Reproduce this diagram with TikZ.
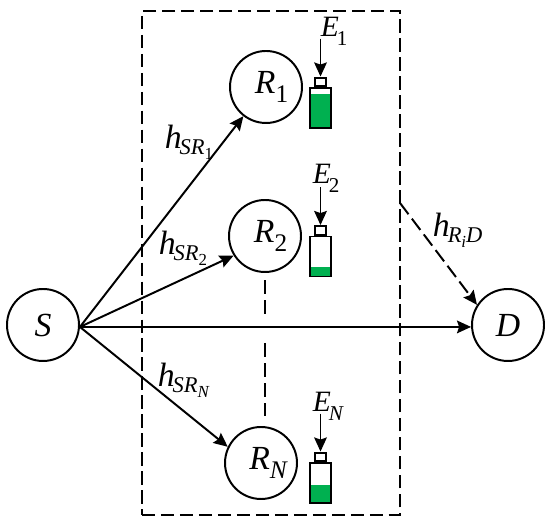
\documentclass[tikz,border=0pt]{standalone}
\usepackage{fontspec}
\setmainfont{Liberation Serif}
\usetikzlibrary{arrows.meta,positioning}
\definecolor{batgreen}{RGB}{0,176,80}
\newcommand{\lowtxt}[3]{\raisebox{-#1pt}{\fontsize{#2}{#2}\selectfont #3}}
\newcommand{\relay}[2]{\hspace*{8pt}\textit{#1}\lowtxt{6}{18}{#2}}
\newcommand{\energy}[1]{\fontsize{21}{21}\selectfont\textit{E}\kern-1.5pt\lowtxt{6}{15}{#1}}
\newcommand{\chan}[2]{\textit{h}\kern-1.5pt\lowtxt{4}{16}{\itshape #1\lowtxt{3.5}{12}{#2}}}

\begin{document}
\begin{tikzpicture}[
  line width=1.4pt,
  font=\fontsize{24}{24}\selectfont,
  terminal/.style={draw,circle,minimum size=1.8cm,inner sep=0pt},
  battery/.style={draw,minimum width=0.525cm,minimum height=1cm,inner sep=0pt},
  batcap/.style={draw,minimum width=0.275cm,minimum height=0.2125cm,inner sep=0pt},
  tag/.style={anchor=base west,inner sep=0pt},
  arrow/.style={-{Stealth[length=10pt,width=9pt,inset=1.5pt]}},
  gapline/.style={dash pattern=on 10pt off 4.3pt}
]
  \useasboundingbox (0,0) rectangle (13.75,13.175);

  \node[terminal] (S) at (1.075,5.05) {\textit{S}};
  \node[terminal] (D) at (12.7,5.05) {\textit{D}};
  \node[terminal] (R1) at (6.65,11.0) {\relay{R}{1}};
  \node[terminal] (R2) at (6.625,7.275) {\relay{R}{2}};
  \node[terminal] (RN) at (6.525,1.6) {\hspace*{2pt}\relay{R}{\itshape N}};

  % relay group
  \node[draw,dash pattern=on 9.5pt off 4pt,minimum width=6.45cm,minimum height=12.6cm,inner sep=0pt]
    (group) at (6.775,6.6) {};

  \foreach \x/\y/\lev in {1/10.475/0.85,2/6.7625/0.225,N/1.1/0.45} {
    \node[battery,path picture={\fill[batgreen] (path picture bounding box.south west)
      rectangle ++(0.6,\lev);}] (bat\x) at (8.0125,\y) {};
    \node[batcap,above=0pt of bat\x] (cap\x) {};
    \coordinate (top\x) at ([yshift=0.95cm]cap\x.north);
    \draw[arrow] (top\x) -- (cap\x.north);
  }

  \node[tag] (E1) at (8.0,12.25) {\energy{1}};
  \node[tag] (E2) at (7.8,8.575) {\energy{2}};
  \node[tag] (EN) at (7.8,2.875) {\energy{\itshape N}};

  \draw[arrow] (S.-3) -- (R1);
  \draw[arrow] (S.-3) -- (R2.212);
  \draw[arrow] (S.-3) -- (RN.154);
  \draw[arrow] (S.-3) -- (D.183);

  \coordinate (groupout) at (10.0,8.1);
  \draw[arrow,dash pattern=on 10pt off 4pt] (groupout) -- (D.147);

  % broken line between the relays
  \coordinate (gaptop) at (6.625,5.3);
  \coordinate (gapbot) at (6.625,4.6);
  \draw[gapline,shorten <=5pt] (R2.south) -- (gaptop);
  \draw[gapline,shorten >=7pt] (gapbot) -- (gapbot |- RN.north);

  \node[tag] (hR1) at (4.1,9.45) {\chan{SR}{\upshape 1}};
  \node[tag] (hR2) at (3.95,6.8) {\chan{SR}{\upshape 2}};
  \node[tag] (hRN) at (3.925,3.5) {\chan{SR}{\itshape N}};
  \node[tag] (hRD) at (10.8,7.25) {\textit{h}\kern-1.5pt\lowtxt{4}{16}{\itshape R\lowtxt{3.5}{12}{i}D}};
\end{tikzpicture}
\end{document}
